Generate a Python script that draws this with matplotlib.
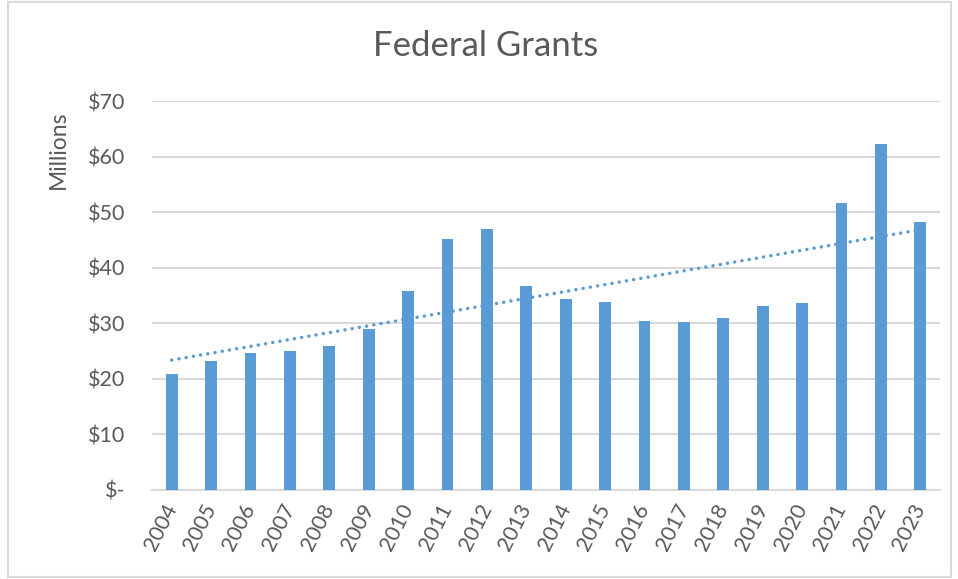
import numpy as np
import matplotlib
matplotlib.use("Agg")
import matplotlib.pyplot as plt
from matplotlib.patches import Rectangle

# --- Data ($ millions) ---
years = ['2004', '2005', '2006', '2007', '2008', '2009', '2010', '2011', '2012', '2013',
         '2014', '2015', '2016', '2017', '2018', '2019', '2020', '2021', '2022', '2023']
grants = [20.8, 23.3, 24.7, 25.1, 25.9, 28.9, 35.8, 45.2, 47.0, 36.7,
          34.4, 33.9, 30.5, 30.2, 30.9, 33.2, 33.7, 51.6, 62.3, 48.2]
y_ticks = [0, 10, 20, 30, 40, 50, 60, 70]
y_tick_labels = ['$-', '$10', '$20', '$30', '$40', '$50', '$60', '$70']

BAR_COLOR = '#5B9BD5'
TEXT_COLOR = '#595959'
GRID_COLOR = '#D9D9D9'

plt.rcParams['font.family'] = ['Lato', 'DejaVu Sans']

fig = plt.figure(figsize=(9.58, 5.79), dpi=100)
ax = fig.add_axes([152 / 958, 1 - 490 / 579, 788 / 958, 389 / 579])

x = np.arange(len(years))
ax.bar(x, grants, width=0.3, color=BAR_COLOR, zorder=3)

# linear trendline, like Excel's
slope, intercept = np.polyfit(x, grants, 1)
ax.plot(x, slope * x + intercept, color=BAR_COLOR, linewidth=2.5,
        linestyle=(0, (0.01, 2.1)), dash_capstyle='round', zorder=4)

ax.set_xlim(-0.5, len(years) - 0.5)
ax.set_ylim(0, 70)
ax.set_yticks(y_ticks)
ax.set_yticklabels(y_tick_labels)
ax.set_xticks(x)
ax.set_xticklabels(years, rotation=63, ha='right', va='center', rotation_mode='anchor')

ax.tick_params(axis='y', length=0, pad=19, labelsize=15.5, labelcolor=TEXT_COLOR)
ax.tick_params(axis='x', length=0, pad=11, labelsize=15.5, labelcolor=TEXT_COLOR)

ax.grid(axis='y', color=GRID_COLOR, linewidth=1.5, zorder=0)
for side in ['top', 'right', 'left']:
    ax.spines[side].set_visible(False)
ax.spines['bottom'].set_color(GRID_COLOR)
ax.spines['bottom'].set_linewidth(1.5)

ax.set_ylabel('Millions', fontsize=16.5, color=TEXT_COLOR)
ax.yaxis.set_label_coords(-0.106, 0.874)

fig.text(0.507, 1 - 46 / 579, 'Federal Grants', ha='center', va='center',
         fontsize=25, color=TEXT_COLOR)

# light chart-area border
fig.patches.append(Rectangle((8 / 958, 2 / 579), 943 / 958, 575 / 579,
                             transform=fig.transFigure, fill=False,
                             edgecolor=GRID_COLOR, linewidth=1.5))

fig.savefig('out.png', dpi=100)
